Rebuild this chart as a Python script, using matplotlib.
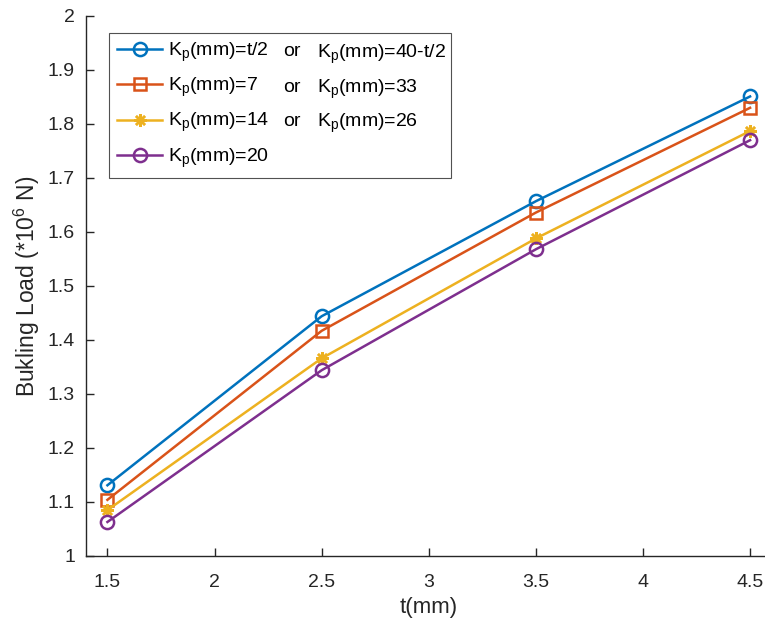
import matplotlib
matplotlib.use("Agg")
import matplotlib.pyplot as plt

# ---------------------------------------------------------
# Data
# ---------------------------------------------------------
t_mm = [1.5, 2.5, 3.5, 4.5]

load_half = [1.131, 1.444, 1.657, 1.851]    # Kp = t/2 or 40-t/2
load_7 = [1.104, 1.417, 1.636, 1.830]       # Kp = 7 or 33
load_14 = [1.085, 1.366, 1.588, 1.787]      # Kp = 14 or 26
load_20 = [1.063, 1.344, 1.568, 1.770]      # Kp = 20

first_labels = [r"K$_\mathrm{p}$(mm)=t/2", r"K$_\mathrm{p}$(mm)=7",
                r"K$_\mathrm{p}$(mm)=14", r"K$_\mathrm{p}$(mm)=20"]
second_labels = [r"K$_\mathrm{p}$(mm)=40-t/2", r"K$_\mathrm{p}$(mm)=33",
                 r"K$_\mathrm{p}$(mm)=26"]

x_ticks = [1.5, 2, 2.5, 3, 3.5, 4, 4.5]
y_ticks = [1, 1.1, 1.2, 1.3, 1.4, 1.5, 1.6, 1.7, 1.8, 1.9, 2]

# ---------------------------------------------------------
# Style
# ---------------------------------------------------------
plt.rcParams["font.family"] = ["Liberation Sans", "DejaVu Sans"]
plt.rcParams["mathtext.fontset"] = "custom"
plt.rcParams["mathtext.rm"] = "Liberation Sans"
plt.rcParams["mathtext.it"] = "Liberation Sans:italic"
plt.rcParams["mathtext.bf"] = "Liberation Sans:bold"

W, H = 765, 626
fig = plt.figure(figsize=(W / 100, H / 100), dpi=100)

# axes box in pixels: left spine x=86, bottom y=556, top y=16, right past the crop
left_px, right_px, top_px, bot_px = 86, 771.5, 16, 556
ax = fig.add_axes([left_px / W, 1 - bot_px / H,
                   (right_px - left_px) / W, (bot_px - top_px) / H])

series = [
    (load_half, "#0072BD", "o", 9.5, "none"),
    (load_7, "#D95319", "s", 8, "none"),
    (load_14, "#EDB120", (8, 2, 0), 9, "#EDB120"),
    (load_20, "#7E2F8E", "o", 9.5, "none"),
]

handles = []
for vals, color, marker, ms, mfc in series:
    ln, = ax.plot(t_mm, vals, color=color, lw=1.8, marker=marker, ms=ms,
                  mfc=mfc, mec=color, mew=1.8, clip_on=False)
    handles.append(ln)

ax.set_xlim(1.4, 4.6)
ax.set_ylim(1, 2)
ax.set_xticks(x_ticks)
ax.set_xticklabels(["1.5", "2", "2.5", "3", "3.5", "4", "4.5"])
ax.set_yticks(y_ticks)
ax.set_yticklabels(["1", "1.1", "1.2", "1.3", "1.4", "1.5", "1.6", "1.7",
                    "1.8", "1.9", "2"])

ax.spines["top"].set_visible(False)
ax.spines["right"].set_visible(False)
for s in ("left", "bottom"):
    ax.spines[s].set_color("#262626")
    ax.spines[s].set_linewidth(1.0)
ax.tick_params(direction="in", length=6, width=1.0, colors="#262626",
               labelsize=14)
ax.tick_params(axis="x", pad=13)
ax.tick_params(axis="y", pad=8)

ax.set_xlabel("t(mm)", fontsize=16, color="#262626", labelpad=4)
ax.set_ylabel(r"Bukling Load (*10$^{6}$ N)", fontsize=16.5, color="#262626",
              labelpad=4)

# ---------------------------------------------------------
# Legend: box spanning x=109..451, y=33..175 (pixels)
# ---------------------------------------------------------
lx0, lx1, ly0, ly1 = 109, 451, 33, 175
leg = ax.legend(handles, first_labels, loc="upper left", mode="expand",
                bbox_to_anchor=(lx0 / W, 1 - ly1 / H, (lx1 - lx0) / W,
                                (ly1 - ly0) / H),
                bbox_transform=fig.transFigure, fontsize=14,
                frameon=True, fancybox=False, borderaxespad=0,
                handlelength=2.35, handletextpad=0.3, labelspacing=0.62,
                borderpad=0.4)
leg.get_frame().set_edgecolor("#262626")
leg.get_frame().set_linewidth(0.8)

row_y = [50, 85, 119]
for y, lab in zip(row_y, second_labels):
    fig.text(283 / W, 1 - y / H, "or", fontsize=14, va="center_baseline",
             ha="left", color="black")
    fig.text(317 / W, 1 - y / H, lab, fontsize=14, va="center_baseline",
             ha="left", color="black")

fig.savefig("out.png", dpi=100)
